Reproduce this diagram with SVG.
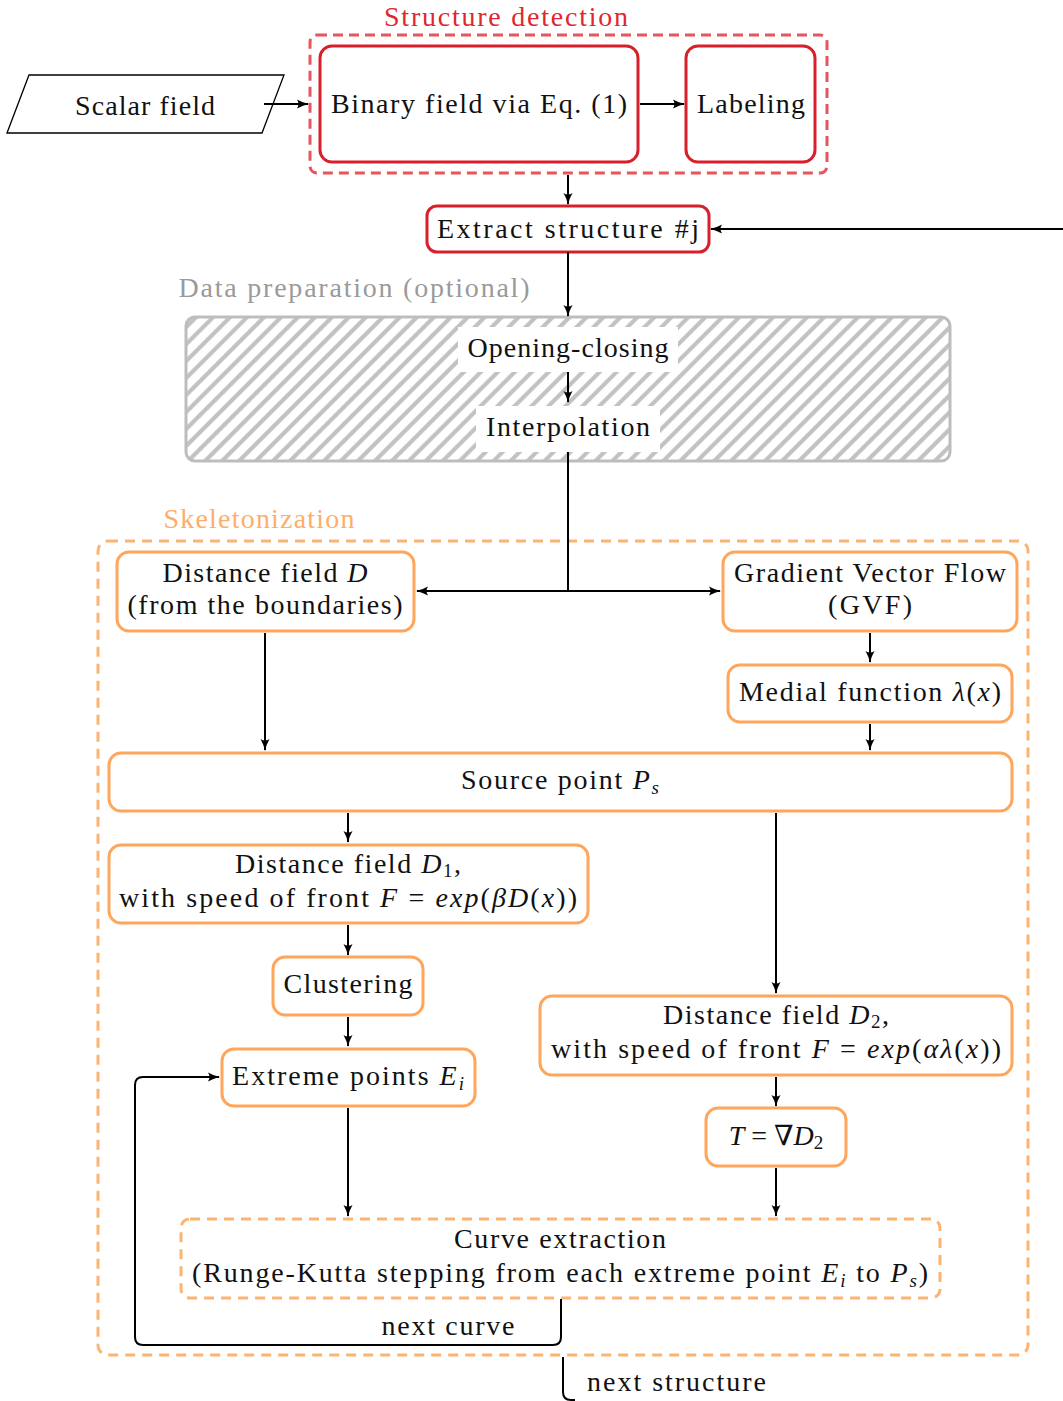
<svg xmlns="http://www.w3.org/2000/svg" width="1063" height="1401" viewBox="0 0 1063 1401" font-family="'Liberation Serif', 'DejaVu Serif', serif">
<defs>
<style>
text{font-family:'Liberation Serif','DejaVu Serif',serif;font-size:28px;fill:#111;}
.c{text-anchor:middle;}
.i{font-style:italic;}
.sub{font-size:19px;}
.red{fill:none;stroke:#d7202a;stroke-width:3;}
.redd{fill:none;stroke:#e8555b;stroke-width:3;stroke-dasharray:10 6;}
.or{fill:#fff;stroke:#fda65c;stroke-width:3;}
.ord{fill:none;stroke:#fdb473;stroke-width:3;stroke-dasharray:10 7;}
.ln{fill:none;stroke:#000;stroke-width:2;}
.arr{fill:none;stroke:#000;stroke-width:2;marker-end:url(#ah);}
</style>
<marker id="ah" viewBox="0 0 12 10" refX="11" refY="5" markerWidth="12" markerHeight="10" markerUnits="userSpaceOnUse" orient="auto">
<path d="M0,0.5 Q6,4 12,5 Q6,6 0,9.5 Q3,5 0,0.5 Z" fill="#000"/>
</marker>
<pattern id="hatch" width="12" height="12" patternUnits="userSpaceOnUse" patternTransform="rotate(45)">
<rect width="12" height="12" fill="#fff"/>
<line x1="3" y1="0" x2="3" y2="12" stroke="#c2c2c2" stroke-width="4.2"/>
</pattern>
</defs>

<g id="structure-detection">
<text x="506" y="26" class="c" style="fill:#e0262e" textLength="244">Structure detection</text>
<rect x="310" y="35" width="517" height="138" rx="7" class="redd"/>
</g>

<g id="scalar-field">
<polygon points="7,133 29,75 284,75 262,133" fill="#fff" stroke="#000" stroke-width="1.3"/>
<text x="145" y="115" class="c" textLength="140">Scalar field</text>
</g>

<g id="binary-field">
<rect x="320" y="46" width="318" height="116" rx="12" class="red"/>
<text x="479" y="113" class="c" textLength="296">Binary field via Eq.  (1)</text>
</g>

<g id="labeling">
<rect x="686" y="46" width="129" height="116" rx="12" class="red"/>
<text x="751" y="113" class="c" textLength="108">Labeling</text>
</g>

<g id="extract">
<rect x="427" y="206" width="282" height="46" rx="10" class="red"/>
<text x="568" y="238" class="c" textLength="262">Extract structure #j</text>
</g>

<g id="data-preparation">
<text x="354" y="297" class="c" style="fill:#9a9a9a" textLength="351">Data preparation (optional)</text>
<rect x="186" y="317" width="764" height="144" rx="9" fill="url(#hatch)" stroke="#bdbdbd" stroke-width="3"/>
</g>

<g id="opening-closing">
<rect x="458" y="327" width="220" height="45" fill="#fff"/>
<text x="568" y="357" class="c" textLength="201">Opening-closing</text>
</g>

<g id="interpolation">
<rect x="476" y="406" width="184" height="46" fill="#fff"/>
<text x="568" y="436" class="c" textLength="164">Interpolation</text>
</g>

<g id="skeletonization">
<text x="259" y="528" class="c" style="fill:#fdae6b" textLength="191">Skeletonization</text>
<rect x="98" y="541" width="930" height="814" rx="10" class="ord"/>
</g>

<g id="distance-field-d">
<rect x="117" y="552" width="297" height="79" rx="12" class="or"/>
<text x="265" y="582" class="c" textLength="205">Distance field <tspan class="i">D</tspan></text>
<text x="265" y="614" class="c" textLength="275">(from the boundaries)</text>
</g>

<g id="gvf">
<rect x="723" y="552" width="294" height="79" rx="12" class="or"/>
<text x="870" y="582" class="c" textLength="272">Gradient Vector Flow</text>
<text x="870" y="614" class="c" textLength="84">(GVF)</text>
</g>

<g id="medial">
<rect x="728" y="665" width="284" height="57" rx="12" class="or"/>
<text x="870" y="701" class="c" textLength="262">Medial function <tspan class="i">λ</tspan>(<tspan class="i">x</tspan>)</text>
</g>

<g id="source-point">
<rect x="109" y="753" width="903" height="58" rx="12" class="or"/>
<text x="560" y="789" class="c" textLength="198">Source point <tspan class="i">P</tspan><tspan class="sub i" dy="5">s</tspan></text>
</g>

<g id="distance-field-d1">
<rect x="109" y="845" width="479" height="78" rx="12" class="or"/>
<text x="348" y="873" class="c" textLength="226">Distance field <tspan class="i">D</tspan><tspan class="sub" dy="4">1</tspan><tspan dy="-4">,</tspan></text>
<text x="348" y="907" class="c" textLength="458">with speed of front <tspan class="i">F</tspan> = <tspan class="i">exp</tspan>(<tspan class="i">βD</tspan>(<tspan class="i">x</tspan>))</text>
</g>

<g id="clustering">
<rect x="273" y="957" width="150" height="58" rx="12" class="or"/>
<text x="348" y="993" class="c" textLength="129">Clustering</text>
</g>

<g id="extreme-points">
<rect x="222" y="1049" width="253" height="57" rx="12" class="or"/>
<text x="348" y="1085" class="c" textLength="232">Extreme points <tspan class="i">E</tspan><tspan class="sub i" dy="5">i</tspan></text>
</g>

<g id="distance-field-d2">
<rect x="540" y="996" width="472" height="79" rx="12" class="or"/>
<text x="776" y="1024" class="c" textLength="226">Distance field <tspan class="i">D</tspan><tspan class="sub" dy="4">2</tspan><tspan dy="-4">,</tspan></text>
<text x="776" y="1058" class="c" textLength="450">with speed of front <tspan class="i">F</tspan> = <tspan class="i">exp</tspan>(<tspan class="i">αλ</tspan>(<tspan class="i">x</tspan>))</text>
</g>

<g id="gradient-t">
<rect x="706" y="1108" width="140" height="58" rx="12" class="or"/>
<text x="776" y="1145" class="c"><tspan class="i">T</tspan> = ∇<tspan class="i">D</tspan><tspan class="sub" dy="4">2</tspan></text>
</g>

<g id="curve-extraction">
<rect x="181" y="1219" width="759" height="79" rx="9" class="ord" style="fill:#fff"/>
<text x="560" y="1248" class="c" textLength="212">Curve extraction</text>
<text x="560" y="1282" class="c" textLength="736">(Runge-Kutta stepping from each extreme point <tspan class="i">E</tspan><tspan class="sub i" dy="5">i</tspan><tspan dy="-5"> to </tspan><tspan class="i">P</tspan><tspan class="sub i" dy="5">s</tspan><tspan dy="-5">)</tspan></text>
</g>

<g id="labels">
<text x="448" y="1335" class="c" textLength="133">next curve</text>
<text x="587" y="1391" textLength="179">next structure</text>
</g>

<g id="connectors">
<path d="M264,104 H308" class="arr"/>
<path d="M640,104 H684" class="arr"/>
<path d="M568,175 V204" class="arr"/>
<path d="M1063,229 H711" class="arr"/>
<path d="M568,252 V316" class="arr"/>
<path d="M568,372 V402" class="arr"/>
<path d="M568,452 V591" class="ln"/>
<path d="M568,591 H417" class="arr"/>
<path d="M568,591 H720" class="arr"/>
<path d="M870,633 V662" class="arr"/>
<path d="M870,724 V750" class="arr"/>
<path d="M265,633 V750" class="arr"/>
<path d="M348,813 V842" class="arr"/>
<path d="M776,813 V993" class="arr"/>
<path d="M348,925 V955" class="arr"/>
<path d="M348,1017 V1046" class="arr"/>
<path d="M348,1108 V1216" class="arr"/>
<path d="M776,1077 V1106" class="arr"/>
<path d="M776,1168 V1216" class="arr"/>
<path d="M561,1299 V1337 Q561,1345 553,1345 H143 Q135,1345 135,1337 V1085 Q135,1077 143,1077 H219" class="arr"/>
<path d="M563,1357 V1392 Q563,1400 571,1400 H575" class="ln"/>
</g>
</svg>
